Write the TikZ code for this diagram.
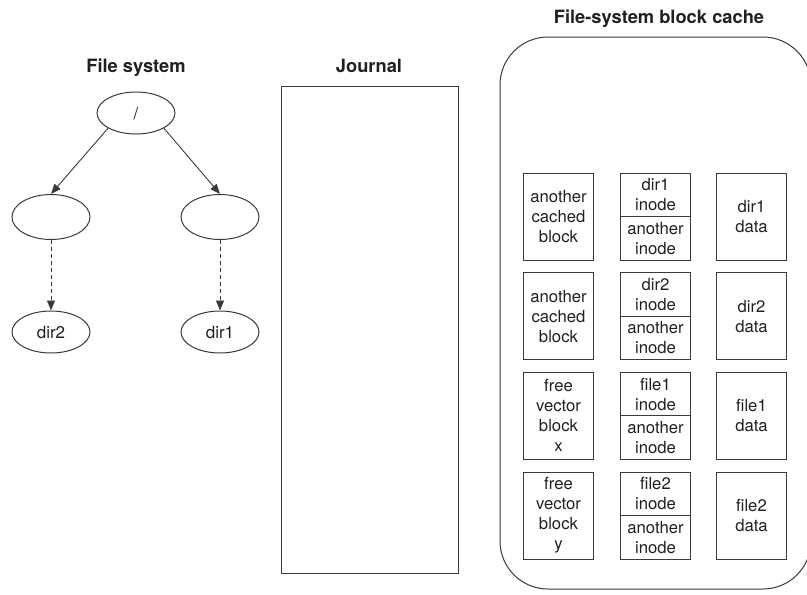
\documentclass[tikz,border=0pt]{standalone}
\usepackage{fontspec}
\setmainfont{TeX Gyre Heros}
\usetikzlibrary{arrows.meta,shapes.geometric}
\definecolor{ink}{HTML}{231F20}
\definecolor{linec}{HTML}{3A3A3A}
\begin{document}
\begin{tikzpicture}[x=1pt,y=-1pt,
  every node/.style={text=ink},
  titlelab/.style={font=\fontsize{18.3}{22}\selectfont\bfseries, anchor=base, inner sep=0pt},
  ell/.style={ellipse, draw=linec, line width=1pt, minimum width=78pt, minimum height=42pt, inner sep=0pt, font=\fontsize{17}{20}\selectfont},
  blk/.style={draw=linec, line width=1pt, minimum width=70pt, minimum height=87pt, inner sep=0pt, align=center, font=\fontsize{16.7}{20}\selectfont},
  halfblk/.style={blk, minimum height=43.5pt},
  treearrow/.style={draw=linec, line width=0.9pt, -{Triangle[length=10pt,width=8pt]}},
  dasharrow/.style={treearrow, dash pattern=on 4pt off 3pt}
]
\useasboundingbox (0,0) rectangle (807,595);
\clip (0,0) rectangle (807,595);

% titles
\node[titlelab] (tfs) at (136,72) {File system};
\node[titlelab] (tj) at (369,72) {Journal};
\node[titlelab] (tc) at (659,23) {File-system block cache};

% file system tree
\node[ell] (root) at (136,113) {/};
\node[ell, minimum height=45pt] (l1) at (51,217) {};
\node[ell, minimum height=45pt] (r1) at (220,217) {};
\node[ell] (l2) at (51,332) {dir2};
\node[ell] (r2) at (220,332) {dir1};
\draw[treearrow] (root.south west) -- (l1.north);
\draw[treearrow] (root.south east) -- (r1.north);
\draw[dasharrow] (l1.south) -- (l2.north);
\draw[dasharrow] (r1.south) -- (r2.north);

% journal
\node[draw=linec, line width=1pt, minimum width=177pt, minimum height=487pt, inner sep=0pt] (journal) at (369.5,329.5) {};

% cache
\node[draw=linec, line width=1pt, rounded corners=48pt, minimum width=311pt, minimum height=552pt, inner sep=0pt] (cache) at (655.5,313) {};

% column 1
\node[blk] (a1) at (558.5,216.5) {another\\cached\\block};
\node[blk] (a2) at (558.5,316.2) {another\\cached\\block};
\node[blk] (a3) at (558.5,415.8) {free\\vector\\block\\x};
\node[blk] (a4) at (558.5,515.5) {free\\vector\\block\\y};

% column 2
\node[halfblk] (b1t) at (655.5,194.75) {dir1\\inode};
\node[halfblk] (b1b) at (655.5,238.25) {another\\inode};
\node[halfblk] (b2t) at (655.5,294.45) {dir2\\inode};
\node[halfblk] (b2b) at (655.5,337.95) {another\\inode};
\node[halfblk] (b3t) at (655.5,394.05) {file1\\inode};
\node[halfblk] (b3b) at (655.5,437.55) {another\\inode};
\node[halfblk] (b4t) at (655.5,493.75) {file2\\inode};
\node[halfblk] (b4b) at (655.5,537.25) {another\\inode};

% column 3
\node[blk] (c1) at (751.5,216.5) {dir1\\data};
\node[blk] (c2) at (751.5,316.2) {dir2\\data};
\node[blk] (c3) at (751.5,415.8) {file1\\data};
\node[blk] (c4) at (751.5,515.5) {file2\\data};
\end{tikzpicture}
\end{document}
